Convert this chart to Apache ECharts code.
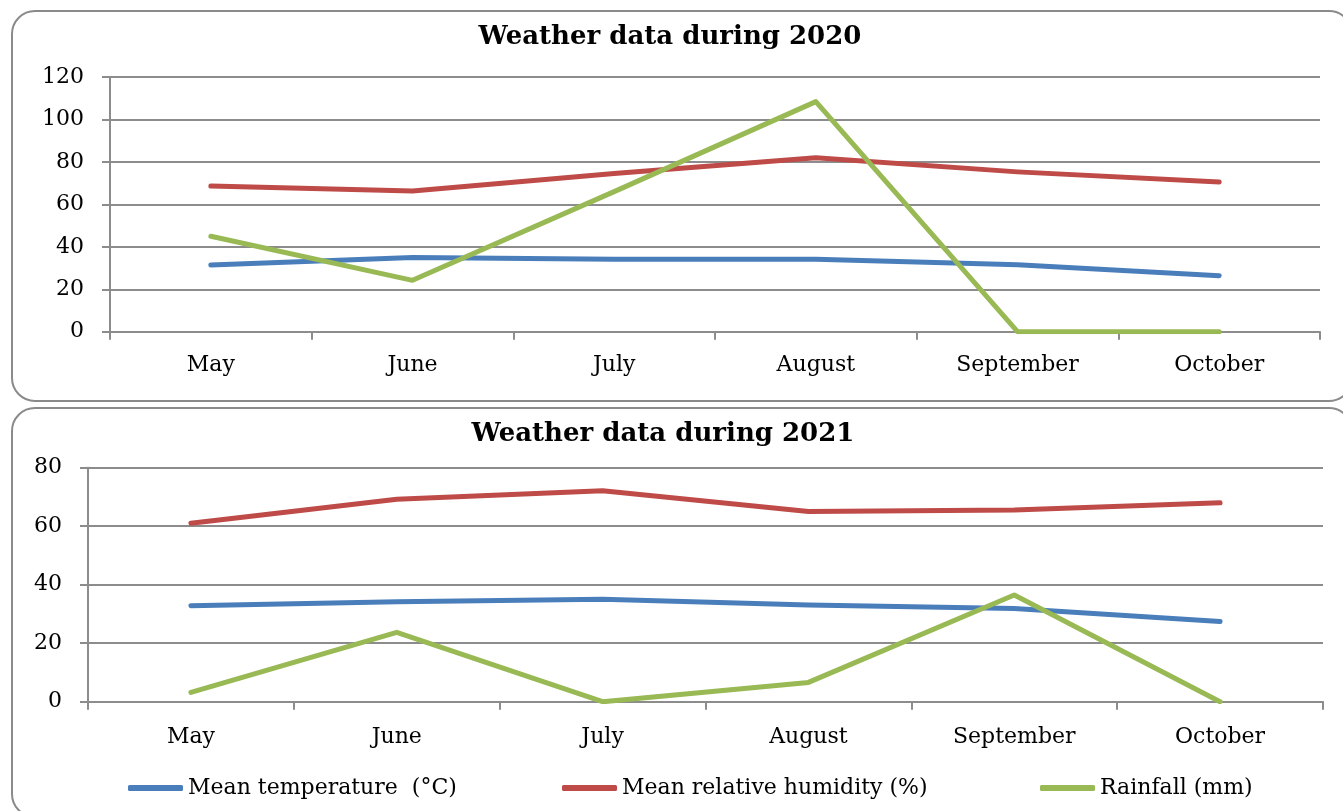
<!DOCTYPE html>
<html><head><meta charset="utf-8">
<script src="https://cdn.jsdelivr.net/npm/echarts@6/dist/echarts.min.js"></script>
<style>
html,body{margin:0;padding:0;background:#fff;}
#wrap{position:relative;width:1343px;height:811px;overflow:hidden;}
.panel{position:absolute;box-sizing:border-box;border:2px solid #8a8a8a;border-radius:24px;background:#fff;}
#p1{left:11px;top:10px;width:1342px;height:392px;}
#p2{left:11px;top:407px;width:1342px;height:411px;}
#chart{position:absolute;left:0;top:0;width:1343px;height:811px;}
</style></head>
<body>
<div id="wrap">
  <div class="panel" id="p1"></div>
  <div class="panel" id="p2"></div>
  <div id="chart"></div>
</div>
<script>
const months = ['May', 'June', 'July', 'August', 'September', 'October'];
const seriesNames = ['Mean temperature  (°C)', 'Mean relative humidity (%)', 'Rainfall (mm)'];
const titles = ['Weather data during 2020', 'Weather data during 2021'];

const temp2020 = [31.4, 35.0, 34.1, 34.1, 31.5, 26.4];
const hum2020  = [68.6, 66.3, 74.5, 82.0, 75.3, 70.5];
const rain2020 = [45.0, 24.2, 66.0, 108.4, 0, 0];

const temp2021 = [32.8, 34.2, 35.0, 33.1, 31.9, 27.4];
const hum2021  = [61.0, 69.2, 72.1, 65.0, 65.5, 68.0];
const rain2021 = [3.2, 23.7, 0, 6.6, 36.5, 0];

const colors = ['#4A7EBB', '#BE4B48', '#98B954'];
const FONT = '"DejaVu Serif", serif';
const gridColor = '#8c8c8c';

const chart = echarts.init(document.getElementById('chart'), null, {renderer: 'canvas'});

function xAxisCfg(gridIndex, margin) {
  return {
    type: 'category', gridIndex, data: months, boundaryGap: true,
    axisLine: {show: true, lineStyle: {color: gridColor, width: 2}},
    axisTick: {show: true, length: 8, interval: 0, alignWithLabel: false, lineStyle: {color: gridColor, width: 2}},
    axisLabel: {color: '#000', fontFamily: FONT, fontSize: 22, margin: margin, interval: 0}
  };
}
function yAxisCfg(gridIndex, max) {
  return {
    type: 'value', gridIndex, min: 0, max: max, interval: 20,
    axisLine: {show: true, lineStyle: {color: gridColor, width: 2}},
    axisTick: {show: true, length: 8, lineStyle: {color: gridColor, width: 2}},
    axisLabel: {color: '#000', fontFamily: FONT, fontSize: 22, margin: 26},
    splitLine: {show: true, lineStyle: {color: gridColor, width: 2}}
  };
}
function lineSeries(name, data, idx, gi) {
  return {
    type: 'line', name, data, xAxisIndex: gi, yAxisIndex: gi,
    showSymbol: false, symbol: 'none', smooth: false, silent: true,
    color: colors[idx],
    lineStyle: {color: colors[idx], width: 5, cap: 'round', join: 'round'}
  };
}
function legendCfg(name, left) {
  return {
    data: [name], left: left, top: 777, padding: 0,
    icon: 'roundRect', itemWidth: 55, itemHeight: 6, itemGap: 0,
    itemStyle: {borderWidth: 0},
    textStyle: {color: '#000', fontFamily: FONT, fontSize: 22, padding: [0, 0, 0, 0]},
    selectedMode: false
  };
}

chart.setOption({
  animation: false,
  backgroundColor: 'transparent',
  graphic: [
    {type: 'text', x: 670, y: 37, style: {text: titles[0], font: 'bold 26px ' + FONT, fill: '#000', align: 'center', verticalAlign: 'middle', textAlign: 'center', textVerticalAlign: 'middle'}},
    {type: 'text', x: 663, y: 434, style: {text: titles[1], font: 'bold 26px ' + FONT, fill: '#000', align: 'center', verticalAlign: 'middle', textAlign: 'center', textVerticalAlign: 'middle'}}
  ],
  grid: [
    {left: 110, right: 23, top: 77, height: 254.7, containLabel: false, outerBoundsMode: 'none'},
    {left: 88, right: 20, top: 467.7, height: 234, containLabel: false, outerBoundsMode: 'none'}
  ],
  xAxis: [xAxisCfg(0, 23), xAxisCfg(1, 25)],
  yAxis: [yAxisCfg(0, 120), yAxisCfg(1, 80)],
  legend: [
    legendCfg(seriesNames[0], 128),
    legendCfg(seriesNames[1], 562),
    legendCfg(seriesNames[2], 1040)
  ],
  series: [
    lineSeries(seriesNames[0], temp2020, 0, 0),
    lineSeries(seriesNames[1], hum2020, 1, 0),
    lineSeries(seriesNames[2], rain2020, 2, 0),
    lineSeries(seriesNames[0], temp2021, 0, 1),
    lineSeries(seriesNames[1], hum2021, 1, 1),
    lineSeries(seriesNames[2], rain2021, 2, 1)
  ]
});
</script>
</body></html>
